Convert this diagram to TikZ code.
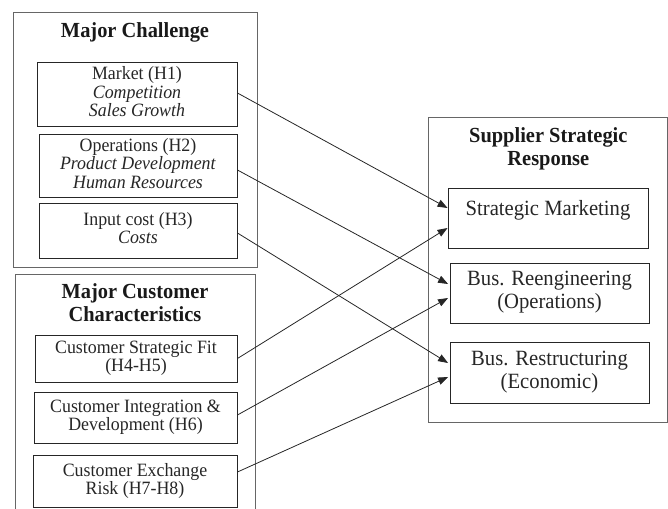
\documentclass[tikz,border=0pt]{standalone}
\usepackage{fontspec}
\setmainfont[FakeStretch=0.95]{Liberation Serif}
\usetikzlibrary{arrows.meta}

\begin{document}
\begin{tikzpicture}[x=1pt,y=-1pt,
    box/.style={draw=black!60,line width=0.8pt},
    pad/.style 2 args={execute at begin node={\rule{0pt}{#1}},execute at end node={\rule[-#2]{0pt}{#2}}},
    frame/.style={draw=black!85,line width=0.9pt,align=center,inner sep=0pt,text=black!85},
    item/.style={frame,pad={19.5pt}{4.5pt},font=\fontsize{18.8}{18.3}\selectfont},
    resp/.style={frame,pad={21.5pt}{5.5pt},font=\fontsize{21.75}{23}\selectfont},
    lone/.style={frame,pad={16pt}{22pt},font=\fontsize{21.75}{23}\selectfont},
    head/.style={align=center,inner sep=0pt,text=black!90,pad={17pt}{6pt},
      font=\fontsize{21.5}{23}\selectfont\bfseries},
    link/.style={line width=0.8pt,black!85,-{Triangle[length=10pt,width=7.5pt]}}]
    \useasboundingbox (0,0) rectangle (668,508);
    % the three groups
    \draw[box](13,12) rectangle (257,267);
    \draw[box](15,274) rectangle (255,520);
    \draw[box](428,117) rectangle (667.5,422);
    \node[head] (mchead) at (135,32.2) {Major Challenge};
    \node[head] (mcchead) at (135,306) {Major Customer\\Characteristics};
    \node[head] (ssrhead) at (548.3,149.3) {Supplier Strategic\\Response};
    % challenges
    \node[item,minimum width=200pt,minimum height=64pt] (mkt) at (137,94)
      {Market (H1)\\\textit{Competition}\\\textit{Sales Growth}};
    \node[item,minimum width=198pt,minimum height=63pt] (ops) at (138,165.5)
      {Operations (H2)\\\textit{Product Development}\\\textit{Human Resources}};
    \node[item,minimum width=198pt,minimum height=55pt] (inp) at (138,230.5)
      {Input cost (H3)\\\textit{Costs}};
    % customer characteristics
    \node[item,minimum width=202pt,minimum height=47pt] (fit) at (136,358.5)
      {Customer Strategic Fit\\(H4-H5)};
    \node[item,minimum width=203pt,minimum height=51pt] (intg) at (135.5,417.5)
      {Customer Integration \&\\Development (H6)};
    \node[item,minimum width=204pt,minimum height=52pt] (risk) at (135,481)
      {Customer Exchange\\Risk (H7-H8)};
    % responses
    \node[lone,minimum width=200pt,minimum height=60pt] (smk) at (548,218)
      {Strategic Marketing};
    \node[resp,minimum width=199pt,minimum height=60pt] (reng) at (549.5,293)
      {Bus. Reengineering\\(Operations)};
    \node[resp,minimum width=199pt,minimum height=61pt] (rstr) at (549.5,372.5)
      {Bus. Restructuring\\(Economic)};
    % hypotheses
    \draw[link]([yshift=1pt]mkt.east)--([yshift=10pt]smk.west);
    \draw[link]([yshift=-4.5pt]ops.east)--([yshift=9pt,xshift=-1.5pt]reng.west);
    \draw[link]([yshift=-2.5pt]inp.east)--([yshift=9.5pt,xshift=-1.5pt]rstr.west);
    \draw[link](fit.east)--([yshift=-10pt]smk.west);
    \draw[link]([yshift=2.5pt]intg.east)--([yshift=-5pt,xshift=-1.5pt]reng.west);
    \draw[link]([yshift=9pt]risk.east)--([yshift=-4.5pt,xshift=-1.5pt]rstr.west);
  \end{tikzpicture}
\end{document}
